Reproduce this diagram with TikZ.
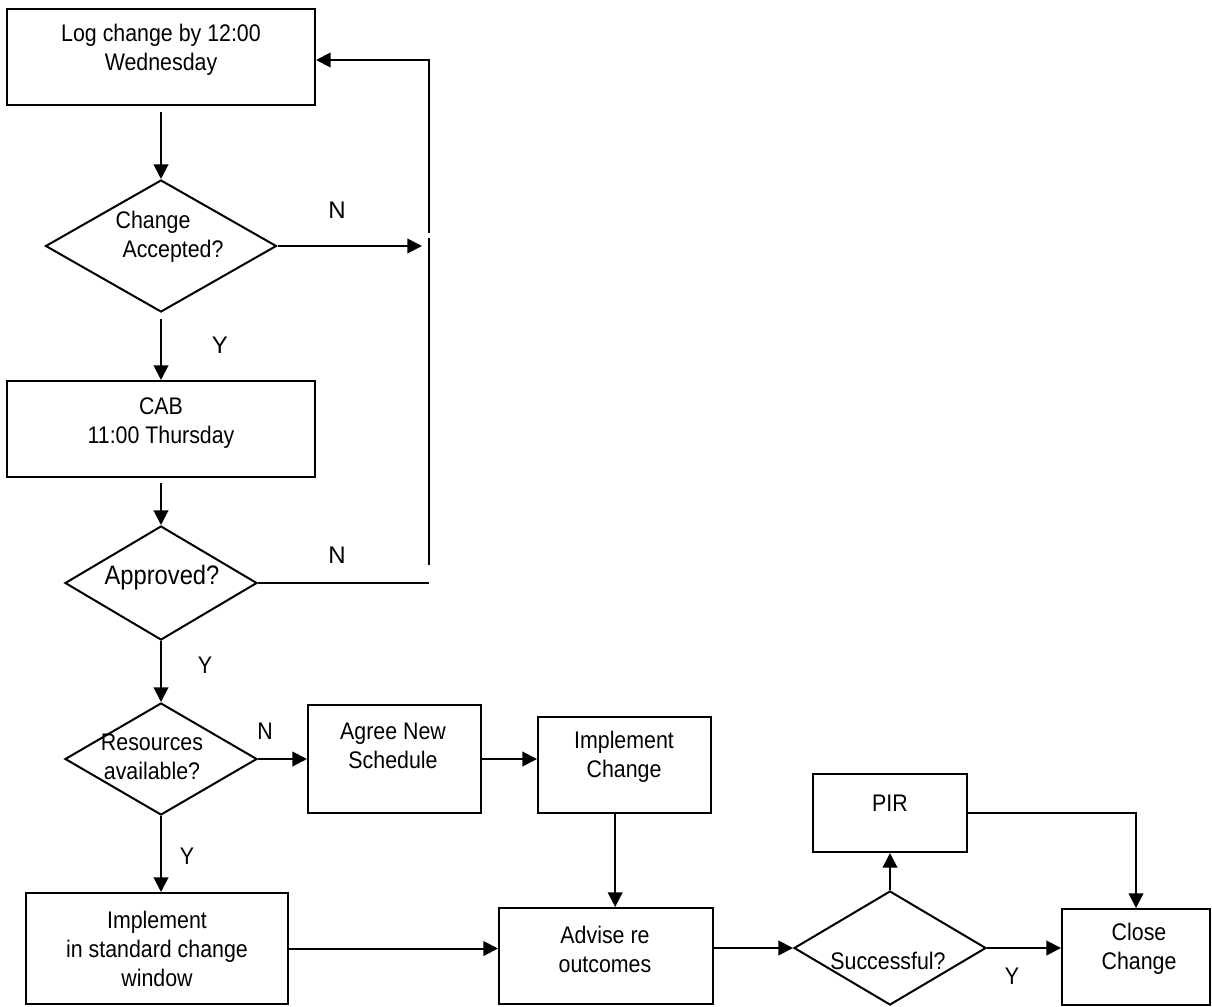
\documentclass[tikz,border=0pt]{standalone}
\usepackage{fontspec}
\setmainfont{Liberation Sans}
\newfontfamily\condfont[FakeStretch=0.89]{Liberation Sans}
\usetikzlibrary{arrows.meta,shapes.geometric}
\begin{document}
\begin{tikzpicture}[x=0.75pt,y=-0.75pt,
  line width=1.5pt,
  boxst/.style={draw,rectangle,inner sep=0pt},
  dia/.style={draw,diamond,inner sep=0pt},
  txt/.style={align=center,inner sep=0pt,font=\condfont\fontsize{18}{21.75}\selectfont},
  lblA/.style={inner sep=0pt,font=\fontsize{18}{21.75}\selectfont},
  lblC/.style={inner sep=0pt,font=\condfont\fontsize{18}{21.75}\selectfont},
  arr/.style={-{Triangle[length=11pt,width=11pt]}}]
\useasboundingbox[fill=white] (0,0) rectangle (1212,1006);
% boxes
\node[boxst,minimum width=231pt,minimum height=72pt] (log) at (161,57) {};
\node[dia,minimum width=173.25pt,minimum height=99pt] (d1) at (161,246) {};
\node[boxst,minimum width=231pt,minimum height=72pt] (cab) at (161,429) {};
\node[dia,minimum width=144pt,minimum height=85.5pt] (d2) at (161,583) {};
\node[dia,minimum width=144pt,minimum height=84pt] (d3) at (161,759) {};
\node[boxst,minimum width=129.75pt,minimum height=81pt] (agree) at (394.5,759) {};
\node[boxst,minimum width=129.75pt,minimum height=72pt] (impl) at (624.5,765) {};
\node[boxst,minimum width=196.5pt,minimum height=83.25pt] (std) at (157,948.5) {};
\node[boxst,minimum width=160.5pt,minimum height=72pt] (advise) at (606,956) {};
\node[dia,minimum width=144pt,minimum height=85.5pt] (d4) at (890,948) {};
\node[boxst,minimum width=115.5pt,minimum height=58.5pt] (pir) at (890,813) {};
\node[boxst,minimum width=111pt,minimum height=72pt] (close) at (1136,957) {};
% texts
\node[txt] (logT) at (161,50) {Log change by 12:00\\Wednesday};
\node[txt] (d1a) at (153,222) {Change};
\node[txt] (d1b) at (173,251) {Accepted?};
\node[txt] (cabT) at (161,423) {CAB\\11:00 Thursday};
\node[txt,font=\condfont\fontsize{20}{24}\selectfont] (d2T) at (162,578) {Approved?};
\node[txt] (d3T) at (152,757) {Resources\\available?};
\node[txt] (agreeT) at (393,746) {Agree New\\Schedule};
\node[txt] (implT) at (624,757) {Implement\\Change};
\node[txt] (stdT) at (157,949) {Implement\\in standard change\\window};
\node[txt] (adviseT) at (605,949) {Advise re\\outcomes};
\node[txt] (d4T) at (888,961) {Successful?};
\node[txt] (pirT) at (890,803) {PIR};
\node[txt] (closeT) at (1139,949) {Close\\Change};
% labels
\node[lblA] (n1) at (337,210) {N};
\node[lblA] (y1) at (220,345) {Y};
\node[lblA] (n2) at (337,555) {N};
\node[lblC] (y2) at (205,665) {Y};
\node[lblC] (n3) at (265,731) {N};
\node[lblC] (y3) at (187,856) {Y};
\node[lblC] (y4) at (1012,976) {Y};
% coordinates
\coordinate (nA) at (422,246);
\coordinate (fTop) at (429,60);
\coordinate (fG1) at (429,233);
\coordinate (fG2) at (429,238);
\coordinate (fBot) at (429,565);
\coordinate (nB) at (429,583);
% connectors
\draw[arr,shorten <=4.5pt] (log.south) -- (d1.north);
\draw[arr] (d1.east) -- (nA);
\draw[arr] (fG1) -- (fTop) -- (fTop -| log.east);
\draw (fG2) -- (fBot);
\draw[arr,shorten <=4.5pt] (d1.south) -- (cab.north);
\draw[arr,shorten <=4pt] (cab.south) -- (d2.north);
\draw (d2.east) -- (nB);
\draw[arr] (d2.south) -- (d3.north);
\draw[arr] (d3.east) -- (d3.east -| agree.west);
\draw[arr] (agree.east) -- (agree.east -| impl.west);
\draw[arr] ([xshift=-7pt]impl.south) -- ([xshift=-7pt]impl.south |- advise.north);
\draw[arr] (d3.south) -- (d3.south |- std.north);
\draw[arr] (std.east) -- (std.east -| advise.west);
\draw[arr] (advise.east |- d4.west) -- (d4.west);
\draw[arr] (d4.north) -- (pir.south);
\draw[arr] (d4.east) -- (d4.east -| close.west);
\draw[arr] (pir.east) -| (close.north);
\end{tikzpicture}
\end{document}
